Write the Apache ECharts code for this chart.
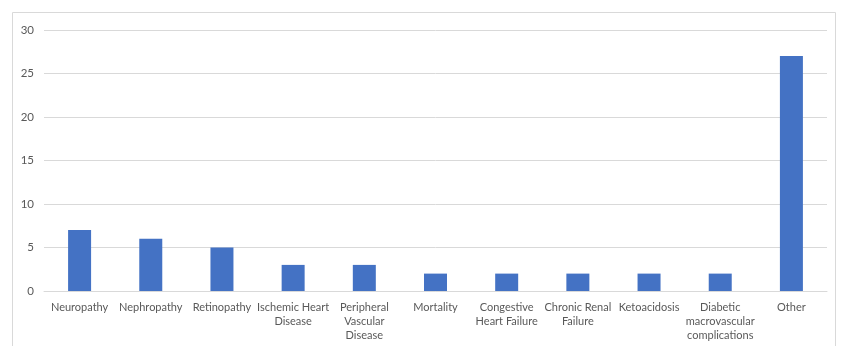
<!DOCTYPE html>
<html>
<head>
<meta charset="utf-8">
<script src="https://cdn.jsdelivr.net/npm/echarts@6/dist/echarts.min.js"></script>
<style>
  html, body { margin: 0; padding: 0; background: #fff; }
  #chart { width: 844px; height: 346px; }
</style>
</head>
<body>
<div id="chart"></div>
<script>
const categories = [
    'Neuropathy', 'Nephropathy', 'Retinopathy', 'Ischemic Heart\nDisease',
    'Peripheral\nVascular\nDisease', 'Mortality', 'Congestive\nHeart Failure',
    'Chronic Renal\nFailure', 'Ketoacidosis', 'Diabetic\nmacrovascular\ncomplications', 'Other'
];
const counts = [7, 6, 5, 3, 3, 2, 2, 2, 2, 2, 27];
const yTicks = [0, 5, 10, 15, 20, 25, 30];

const textColor = '#595959';
const gridColor = '#d9d9d9';
const barColor = '#4472c4';
const fontFamily = 'Lato, "Open Sans", sans-serif';

const chart = echarts.init(document.getElementById('chart'));
chart.setOption({
    animation: false,
    graphic: [{
        type: 'rect',
        shape: { x: 12.5, y: 12.5, width: 823, height: 400 },
        style: { fill: 'none', stroke: gridColor, lineWidth: 1 },
        silent: true
    }],
    grid: { left: 44, right: 17, top: 30, bottom: 55 },
    xAxis: {
        type: 'category',
        data: categories,
        axisLine: { show: true, lineStyle: { color: gridColor } },
        axisTick: { show: false },
        axisLabel: {
            color: textColor, fontSize: 11, fontFamily: fontFamily,
            interval: 0, margin: 9, lineHeight: 14
        }
    },
    yAxis: {
        type: 'value',
        min: yTicks[0],
        max: yTicks[yTicks.length - 1],
        interval: 5,
        axisLine: { show: false },
        axisTick: { show: false },
        axisLabel: { color: textColor, fontSize: 11.5, fontFamily: fontFamily, margin: 10 },
        splitLine: { lineStyle: { color: gridColor } }
    },
    series: [{
        type: 'bar',
        data: counts,
        barWidth: 23,
        itemStyle: { color: barColor }
    }]
});
</script>
</body>
</html>
